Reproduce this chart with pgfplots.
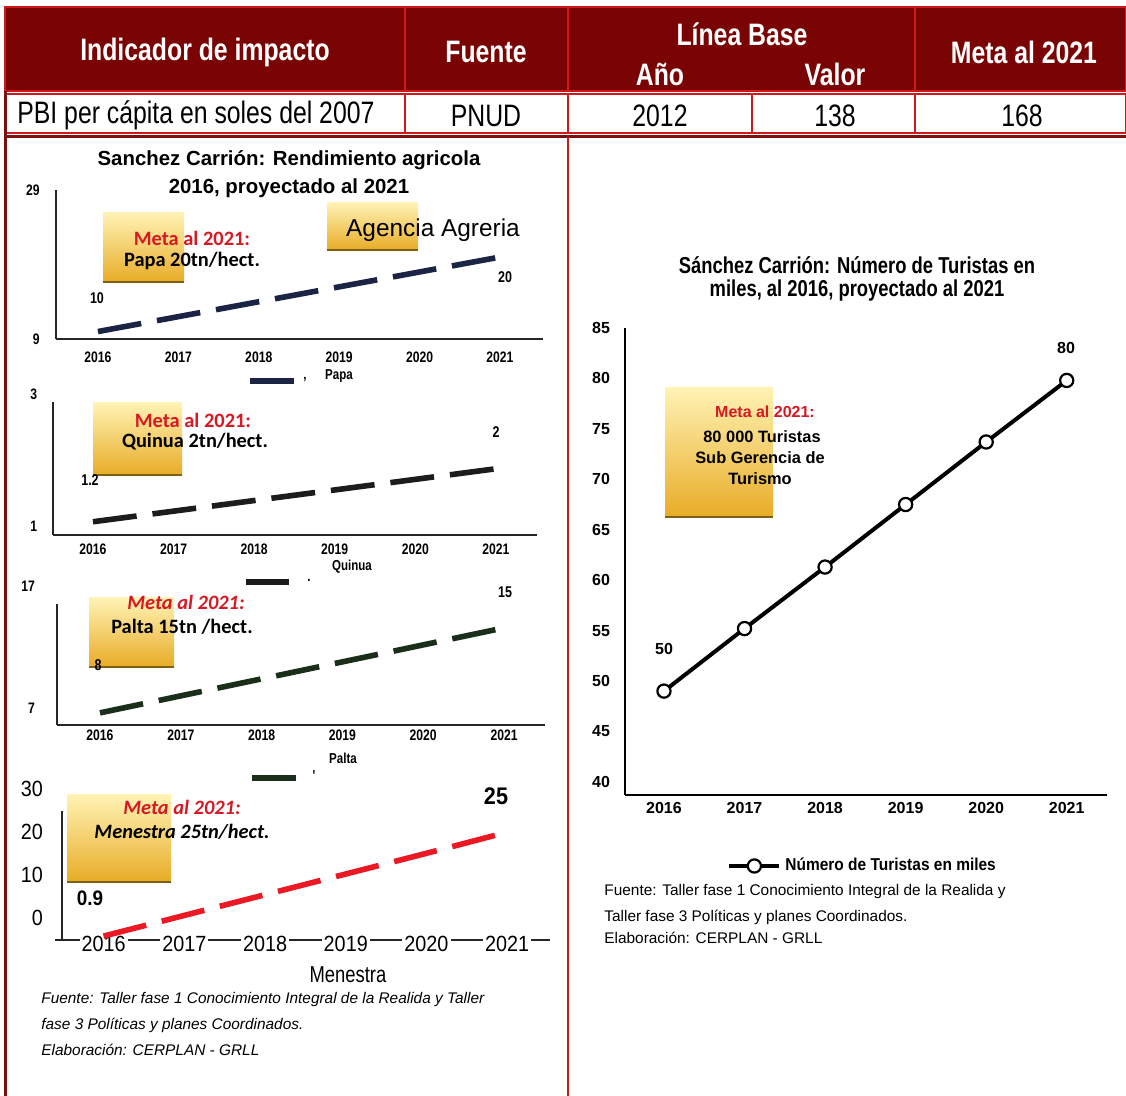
\documentclass[border=0pt]{standalone}
\usepackage{pgfplots}
\pgfplotsset{compat=1.18}
\usepackage{fontspec}
\setmainfont{Liberation Sans}
\newfontfamily\nar[FakeStretch=0.8]{Liberation Sans}
\newfontfamily\narb[FakeStretch=0.9]{Liberation Sans}
\newfontfamily\calib{Carlito}
\newcommand\fs[1]{\fontsize{#1}{#1}\selectfont}

\definecolor{hdr}{RGB}{122,4,4}
\definecolor{brd}{RGB}{205,25,25}
\definecolor{frm}{RGB}{125,15,15}
\definecolor{papa}{RGB}{28,36,70}
\definecolor{quinua}{RGB}{28,28,28}
\definecolor{palta}{RGB}{26,46,26}
\definecolor{menestra}{RGB}{235,25,35}
\definecolor{metared}{RGB}{215,25,35}
\definecolor{boxtop}{RGB}{255,242,180}
\definecolor{boxbot}{RGB}{232,172,38}

\pgfplotsset{
  mini/.style={
    scale only axis, clip=false, anchor=south west,
    axis x line=bottom, axis y line=left,
    axis line style={-, line width=0.7pt, black!85},
    every outer x axis line/.append style={-},
    every outer y axis line/.append style={-},
    major tick length=0pt,
    xtick={2016,2017,2018,2019,2020,2021},
    xticklabels={2016,2017,2018,2019,2020,2021},
    ticklabel style={font=\nar\bfseries\fs{7.6}},
  },
  trend/.style={line width=2.8pt, dash pattern=on 22pt off 8pt},
}

\newcommand\ybox[4]{%
  \shade[top color=boxtop, bottom color=boxbot] (#1,#2) rectangle (#3,#4);
  \draw[boxbot!55!black, line width=0.8pt] (#1,#4) -- (#3,#4);}

\begin{document}
\begin{tikzpicture}[x=0.5pt, y=-0.5pt, t/.style={inner sep=0pt}]
\useasboundingbox (0,0) rectangle (1126,1096);
\fill[white] (0,0) rectangle (1126,1096);

% table head
\fill[hdr] (5,7) rectangle (1126,91);
\foreach \a/\b in {5/405,405/568,568/915,915/1126}
  \draw[brd, line width=1pt] (\a,7) rectangle (\b,91);
\foreach \a/\b in {5/405,405/568,568/752,752/915,915/1126}
  \draw[brd, line width=1pt] (\a,94) rectangle (\b,133);
\draw[frm, line width=1.5pt] (5,137) -- (1126,137);
\draw[frm, line width=1.5pt] (5,91) -- (5,1096);
\draw[brd, line width=1pt] (568,137) -- (568,1096);

\begin{scope}[every node/.style={t, white, font=\nar\bfseries\fs{15.5}}]
\node at (205,52) {Indicador de impacto};
\node at (486,52) {Fuente};
\node at (742,34) {Línea Base};
\node at (660,74) {Año};
\node at (835,74) {Valor};
\node at (1024,52) {Meta al 2021};
\end{scope}
\begin{scope}[every node/.style={t, font=\nar\fs{15.5}}]
\node[anchor=west] at (17,115) {PBI per cápita en soles del 2007};
\node at (486,116) {PNUD};
\node at (660,116) {2012};
\node at (835,116) {138};
\node at (1022,116) {168};
\end{scope}

% yellow boxes
\ybox{103}{213}{184}{282}
\ybox{327}{203}{418}{250}
\ybox{93}{403}{182}{475}
\ybox{89}{598}{174}{667}
\ybox{67}{795}{171}{882}
\ybox{665}{388}{773}{517}

% left titles
\node[t, font=\bfseries\fs{10.2}] at (289,160) {Sanchez Carrión: Rendimiento agricola};
\node[t, font=\bfseries\fs{10.2}] at (289,188) {2016, proyectado al 2021};

% Papa
\begin{axis}[mini, at={(28pt,-169.5pt)}, width=243.5pt, height=74.5pt,
  xmin=2015.478, xmax=2021.535, ymin=9, ymax=29,
  ytick={9,29}, yticklabels={9,29},
  xticklabel style={yshift=-3pt}, yticklabel style={xshift=-4.7pt}]
\addplot[papa, trend] coordinates {(2016,10) (2017,12) (2018,14) (2019,16) (2020,18) (2021,20)};
\end{axis}

% Quinua
\begin{axis}[mini, at={(26.5pt,-267.5pt)}, width=242pt, height=66.25pt,
  xmin=2015.504, xmax=2021.51, ymin=1, ymax=3,
  ytick={1,3}, yticklabels={1,3},
  xticklabel style={yshift=-1pt}, yticklabel style={xshift=-4.4pt, yshift=4.3pt}]
\addplot[quinua, trend] coordinates {(2016,1.2) (2017,1.36) (2018,1.52) (2019,1.68) (2020,1.84) (2021,2)};
\end{axis}

% Palta
\begin{axis}[mini, at={(28.5pt,-362.5pt)}, width=244pt, height=60.7pt,
  xmin=2015.468, xmax=2021.507, ymin=7, ymax=17,
  ytick={7,17}, yticklabels={7,17},
  xticklabel style={yshift=1.3pt}, yticklabel style={xshift=-7.5pt, yshift=8.5pt}]
\addplot[palta, trend] coordinates {(2016,8) (2017,9.4) (2018,10.8) (2019,12.2) (2020,13.6) (2021,15)};
\end{axis}

% Menestra
\begin{axis}[mini, at={(31pt,-470pt)}, width=244pt, height=64.7pt,
  xmin=2015.485, xmax=2021.53, ymin=0, ymax=30,
  x axis line style={shorten <=-3.5pt},
  ytick={0,10,20,30}, yticklabels={0,10,20,30},
  ticklabel style={font=\narb\fs{11}},
  xticklabel style={yshift=5.5pt, fill=white, inner xsep=1pt},
  yticklabel style={xshift=-6pt, yshift=11pt}]
\addplot[menestra, trend] coordinates {(2016,0.9) (2017,5.7) (2018,10.5) (2019,15.3) (2020,20.1) (2021,25)};
\end{axis}

% box texts left
\node[t, metared, font=\calib\bfseries\fs{10.2}] at (192,238) {Meta al 2021:};
\node[t, font=\calib\bfseries\fs{10.2}] at (192,261) {Papa 20tn/hect.};
\node[t, font=\fs{12.2}] at (433,230) {Agencia Agreria};
\node[t, metared, font=\calib\bfseries\fs{10.2}] at (193,420) {Meta al 2021:};
\node[t, font=\calib\bfseries\fs{10.2}] at (195,442) {Quinua 2tn/hect.};
\node[t, metared, font=\calib\bfseries\itshape\fs{10.2}] at (186,602) {Meta al 2021:};
\node[t, font=\calib\bfseries\fs{10.2}] at (182,627) {Palta 15tn /hect.};
\node[t, metared, font=\calib\bfseries\itshape\fs{10.2}] at (182,807) {Meta al 2021:};
\node[t, font=\calib\bfseries\itshape\fs{10.2}] at (182,832) {Menestra 25tn/hect.};

% value labels left
\begin{scope}[every node/.style={t, font=\nar\bfseries\fs{7.8}}]
\node at (97,298) {10};
\node at (505,277) {20};
\node at (90,480) {1.2};
\node at (496,432) {2};
\node at (98,665) {8};
\node at (505,592) {15};
\end{scope}
\node[t, font=\narb\bfseries\fs{10.5}] at (90,898) {0.9};
\node[t, font=\narb\bfseries\fs{12}] at (496,796) {25};

% legends left
\draw[papa, line width=2.8pt] (250,381) -- (294,381);
\node[t, font=\nar\bfseries\fs{7.2}] at (305,380) {,};
\node[t, font=\nar\bfseries\fs{7.2}] at (339,376) {Papa};
\draw[quinua, line width=2.8pt] (246,582) -- (289,582);
\node[t, font=\nar\bfseries\fs{7.2}] at (309,580) {.};
\node[t, font=\nar\bfseries\fs{7.2}] at (352,567) {Quinua};
\draw[palta, line width=2.8pt] (252,778) -- (296,778);
\node[t, font=\nar\bfseries\fs{7.2}] at (314,776) {'};
\node[t, font=\nar\bfseries\fs{7.2}] at (343,758) {Palta};
\node[t, font=\nar\fs{11.5}] at (348,975) {Menestra};

% footer left
\begin{scope}[every node/.style={t, anchor=west, font=\itshape\fs{7.7}}]
\node at (41,1000) {Fuente: Taller fase 1 Conocimiento Integral de la Realida y Taller};
\node at (41,1025) {fase 3 Políticas y planes Coordinados.};
\node at (41,1050) {Elaboración: CERPLAN - GRLL};
\end{scope}

% right chart
\node[t, font=\nar\bfseries\fs{11.5}] at (857,265) {Sánchez Carrión: Número de Turistas en};
\node[t, font=\nar\bfseries\fs{11.5}] at (857,291) {miles, al 2016, proyectado al 2021};

\begin{axis}[scale only axis, clip=false, anchor=south west,
  at={(312.5pt,-397.5pt)}, width=241pt, height=233.5pt,
  xmin=2015.516, xmax=2021.5, ymin=38.7, ymax=85,
  axis x line=bottom, axis y line=left,
  axis line style={-, line width=0.8pt, black},
  every outer x axis line/.append style={-},
  every outer y axis line/.append style={-},
  major tick length=0pt,
  xtick={2016,2017,2018,2019,2020,2021},
  xticklabels={2016,2017,2018,2019,2020,2021},
  ytick={40,45,50,55,60,65,70,75,80,85},
  yticklabels={40,45,50,55,60,65,70,75,80,85},
  ticklabel style={font=\bfseries\fs{8}},
  yticklabel style={xshift=-4pt},
  legend style={draw=none, fill=none, at={(0.2116,-0.152)}, anchor=west,
    font=\narb\bfseries\fs{8.6}, inner sep=0pt},
  legend image code/.code={\draw[mark repeat=2,mark phase=2,#1]
    plot coordinates {(0pt,0pt) (12.5pt,0pt) (25pt,0pt)};}]
\addplot[black, line width=2pt, mark=*, mark size=3.3pt,
  mark options={fill=white, draw=black, line width=1.1pt}]
  coordinates {(2016,49.0) (2017,55.2) (2018,61.3) (2019,67.5) (2020,73.7) (2021,79.8)};
\addlegendentry{Número de Turistas en miles}
\end{axis}

\node[t, metared, font=\bfseries\fs{8}] at (765,412) {Meta al 2021:};
\node[t, font=\bfseries\fs{8.2}] at (762,437) {80 000 Turistas};
\node[t, font=\bfseries\fs{8.2}] at (760,458) {Sub Gerencia de};
\node[t, font=\bfseries\fs{8.2}] at (760,479) {Turismo};
\node[t, font=\bfseries\fs{8}] at (1066,348) {80};
\node[t, font=\bfseries\fs{8}] at (664,649) {50};

\begin{scope}[every node/.style={t, anchor=west, font=\fs{7.7}}]
\node at (604,892) {Fuente: Taller fase 1 Conocimiento Integral de la Realida y};
\node at (604,917) {Taller fase 3 Políticas y planes Coordinados.};
\node at (604,938) {Elaboración: CERPLAN - GRLL};
\end{scope}
\end{tikzpicture}
\end{document}
